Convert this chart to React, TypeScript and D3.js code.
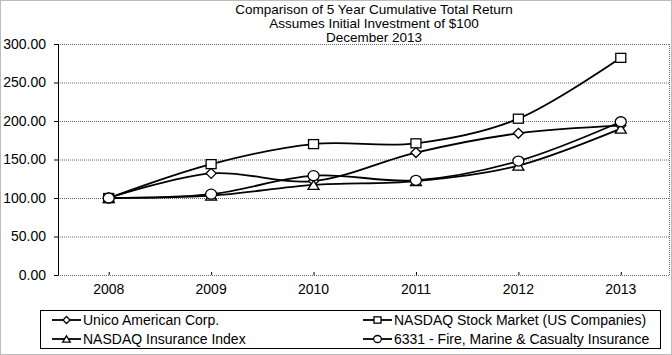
import React from "react";
import * as d3 from "d3";

const years = ["2008", "2009", "2010", "2011", "2012", "2013"];
const unico = [100, 132, 122, 159, 184, 194];
const nasdaqStock = [100, 144, 170, 171, 203, 282];
const nasdaqIns = [100, 103, 117, 122, 142, 190];
const fireMarine = [100, 105, 129, 123, 148, 199];
const yTicks = [0, 50, 100, 150, 200, 250, 300];
const titleLines = [
  "Comparison of 5 Year Cumulative Total Return",
  "Assumes Initial Investment of $100",
  "December 2013",
];
const seriesNames = [
  "Unico American Corp.",
  "NASDAQ Stock Market (US Companies)",
  "NASDAQ Insurance Index",
  "6331 - Fire, Marine & Casualty Insurance",
];
const seriesValues = [unico, nasdaqStock, nasdaqIns, fireMarine];
const seriesMarkers = ["diamond", "square", "triangle", "circle"];

const W = 672;
const H = 355;
const FONT = "'Liberation Sans', Arial, sans-serif";

function Marker({ type, x, y, s = 1 }: { type: string; x: number; y: number; s?: number }) {
  const common = { fill: "#fff", stroke: "#000", strokeWidth: 1.3 };
  if (type === "diamond") {
    const r = 5 * s;
    return <path d={`M${x},${y - r}L${x + r},${y}L${x},${y + r}L${x - r},${y}Z`} {...common} />;
  }
  if (type === "square") {
    const w = 10 * s, h = 9 * s;
    return <rect x={x - w / 2} y={y - h / 2} width={w} height={h} {...common} />;
  }
  if (type === "triangle") {
    const w = 5.5 * s, h = 4.5 * s;
    return <path d={`M${x},${y - h}L${x + w},${y + h}L${x - w},${y + h}Z`} {...common} />;
  }
  return <ellipse cx={x} cy={y} rx={5.5 * s} ry={5 * s} {...common} />;
}

export default function App() {
  const x = d3.scalePoint<string>().domain(years).range([57.5, 672]).padding(0.5);
  const y = d3.scaleLinear().domain([0, 300]).range([275, 44]);
  const plotLeft = 58;
  const plotRight = 669;

  const line = d3
    .line<number>()
    .x((_, i) => x(years[i]) as number)
    .y((d) => y(d))
    .curve(d3.curveCardinal.tension(0));

  const legendPos = [
    { lx: 52, ly: 320 },
    { lx: 363, ly: 320 },
    { lx: 52, ly: 339 },
    { lx: 363, ly: 339 },
  ];

  return (
    <svg
      width={W}
      height={H}
      style={{ position: "absolute", left: 0, top: 0, background: "#fff" }}
      fontFamily={FONT}
    >
      <rect x={0.5} y={0.5} width={W - 1} height={H - 1} fill="#fff" stroke="#777" strokeDasharray="1 1" />
      {titleLines.map((t, i) => (
        <text key={i} x={374} y={14 + i * 14} textAnchor="middle" fontSize={13.5} fill="#000">
          {t}
        </text>
      ))}
      {/* grid */}
      {yTicks.map((t) => (
        <g key={t}>
          <line
            x1={plotLeft}
            x2={plotRight}
            y1={y(t) + 0.5}
            y2={y(t) + 0.5}
            stroke="#666"
            strokeDasharray="1 1"
          />
          <line x1={plotLeft - 4} x2={plotLeft} y1={y(t) + 0.5} y2={y(t) + 0.5} stroke="#000" />
          <text x={46} y={y(t)} dy="0.35em" textAnchor="end" fontSize={14} fill="#000">
            {d3.format(".2f")(t)}
          </text>
        </g>
      ))}
      <line x1={plotRight + 0.5} x2={plotRight + 0.5} y1={y(300)} y2={y(0)} stroke="#666" strokeDasharray="1 1" />
      <line x1={plotLeft + 0.5} x2={plotLeft + 0.5} y1={y(300)} y2={y(0) + 0.5} stroke="#000" />
      {years.map((yr) => (
        <g key={yr}>
          <line x1={(x(yr) as number) + 0.5} x2={(x(yr) as number) + 0.5} y1={y(0) - 3} y2={y(0)} stroke="#000" />
          <text x={x(yr) as number} y={294} textAnchor="middle" fontSize={14} fill="#000">
            {yr}
          </text>
        </g>
      ))}
      {/* series */}
      {seriesValues.map((vals, si) => (
        <g key={si}>
          <path d={line(vals) || ""} fill="none" stroke="#000" strokeWidth={1.8} />
          {vals.map((v, i) => (
            <Marker key={i} type={seriesMarkers[si]} x={x(years[i]) as number} y={y(v)} />
          ))}
        </g>
      ))}
      {/* legend */}
      <rect x={40.5} y={310.5} width={620} height={38} fill="#fff" stroke="#000" strokeWidth={1} />
      {seriesNames.map((n, i) => {
        const p = legendPos[i];
        return (
          <g key={n}>
            <line x1={p.lx} x2={p.lx + 29} y1={p.ly} y2={p.ly} stroke="#000" strokeWidth={1.8} />
            <Marker type={seriesMarkers[i]} x={p.lx + 14.5} y={p.ly} s={0.7} />
            <text x={p.lx + 31} y={p.ly} dy="0.35em" fontSize={14} fill="#000">
              {n}
            </text>
          </g>
        );
      })}
    </svg>
  );
}
